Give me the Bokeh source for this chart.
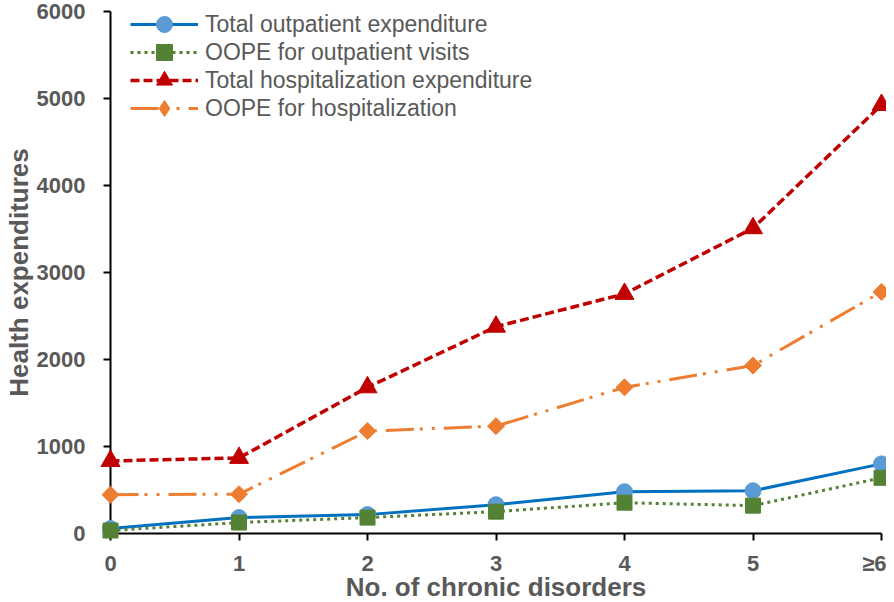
import math
from bokeh.plotting import figure
from bokeh.models import FixedTicker, Legend, LegendItem, Range1d
from bokeh.embed import file_html
from bokeh.resources import INLINE

categories = ["0", "1", "2", "3", "4", "5", "≥6"]
total_outpatient = [57, 183, 217, 331, 480, 491, 800]
oope_outpatient = [34, 126, 183, 251, 354, 320, 640]
total_hosp = [834, 869, 1680, 2377, 2754, 3509, 4926]
oope_hosp = [446, 452, 1177, 1234, 1680, 1931, 2777]
y_ticks = [0, 1000, 2000, 3000, 4000, 5000, 6000]

xs = list(range(len(categories)))
FONT = "Liberation Sans"
GRAY = "#595959"

FW, FH = 771, 522
p = figure(frame_width=FW, frame_height=FH, output_backend="svg", toolbar_location=None,
           x_range=Range1d(0, len(categories) - 1), y_range=Range1d(0, 6000),
           min_border_left=102, min_border_right=5, min_border_top=11, min_border_bottom=10)
p.outline_line_color = None
p.xgrid.visible = False
p.ygrid.visible = False

series = [
    ("Total outpatient expenditure", total_outpatient, "#0070C0", "solid", 3, "circle", "#5B9BD5", 16, 0, None),
    ("OOPE for outpatient visits", oope_outpatient, "#548235", "3 4", 3, "square", "#548235", 15, 0, None),
    ("Total hospitalization expenditure", total_hosp, "#C00000", "9 4", 3.5, "triangle", "#C00000", 19, 0, None),
    ("OOPE for hospitalization", oope_hosp, "#ED7D31", "28 6 3 9 3 9", 3, "square", "#ED7D31", 12, math.pi / 4, "diamond"),
]

for i, (label, ys, lc, dash, lw, marker, mc, ms, ang, leg_marker) in enumerate(series):
    r1 = p.line(xs, ys, line_color=lc, line_width=lw, line_dash=dash)
    r2 = p.scatter(xs, ys, marker=marker, size=ms, angle=ang, fill_color=mc, line_color=mc)
    r1.level = "overlay"
    r2.level = "overlay"
    rends = [r1, r2]
    if leg_marker is not None:
        # zero-size twin: invisible on the plot, drawn as a diamond in the legend
        r3 = p.scatter(xs, ys, marker=leg_marker, size=0, fill_color=mc, line_color=mc)
        rends = [r1, r3]
    lg = Legend(items=[LegendItem(label=label, renderers=rends)],
                location=(20, FH - 33 - 28 * i), margin=0, padding=0, spacing=0,
                glyph_width=68, glyph_height=40, label_standoff=7, label_height=20,
                label_text_font=FONT, label_text_font_size="23px", label_text_color=GRAY,
                background_fill_alpha=0, border_line_color=None)
    p.add_layout(lg)

p.xaxis.ticker = FixedTicker(ticks=xs)
p.xaxis.major_label_overrides = {i: c for i, c in enumerate(categories)}
p.yaxis.ticker = FixedTicker(ticks=y_ticks)
p.xaxis.axis_label = "No. of chronic disorders"
p.yaxis.axis_label = "Health expenditures"

for ax in (p.xaxis, p.yaxis):
    ax.axis_line_color = "black"
    ax.axis_line_width = 2
    ax.major_tick_line_color = "black"
    ax.major_tick_line_width = 2
    ax.major_tick_out = 7
    ax.major_tick_in = 0
    ax.minor_tick_line_color = None
    ax.major_label_text_font = FONT
    ax.major_label_text_font_style = "bold"
    ax.major_label_text_font_size = "22px"
    ax.major_label_text_color = GRAY
    ax.axis_label_text_font = FONT
    ax.axis_label_text_font_style = "bold"
    ax.axis_label_text_font_size = "26px"
    ax.axis_label_text_color = GRAY

p.xaxis.major_label_standoff = 10
p.xaxis.axis_label_standoff = -7
p.yaxis.major_label_standoff = 18
p.yaxis.axis_label_standoff = 0

open("out.html", "w").write(file_html(p, INLINE))
